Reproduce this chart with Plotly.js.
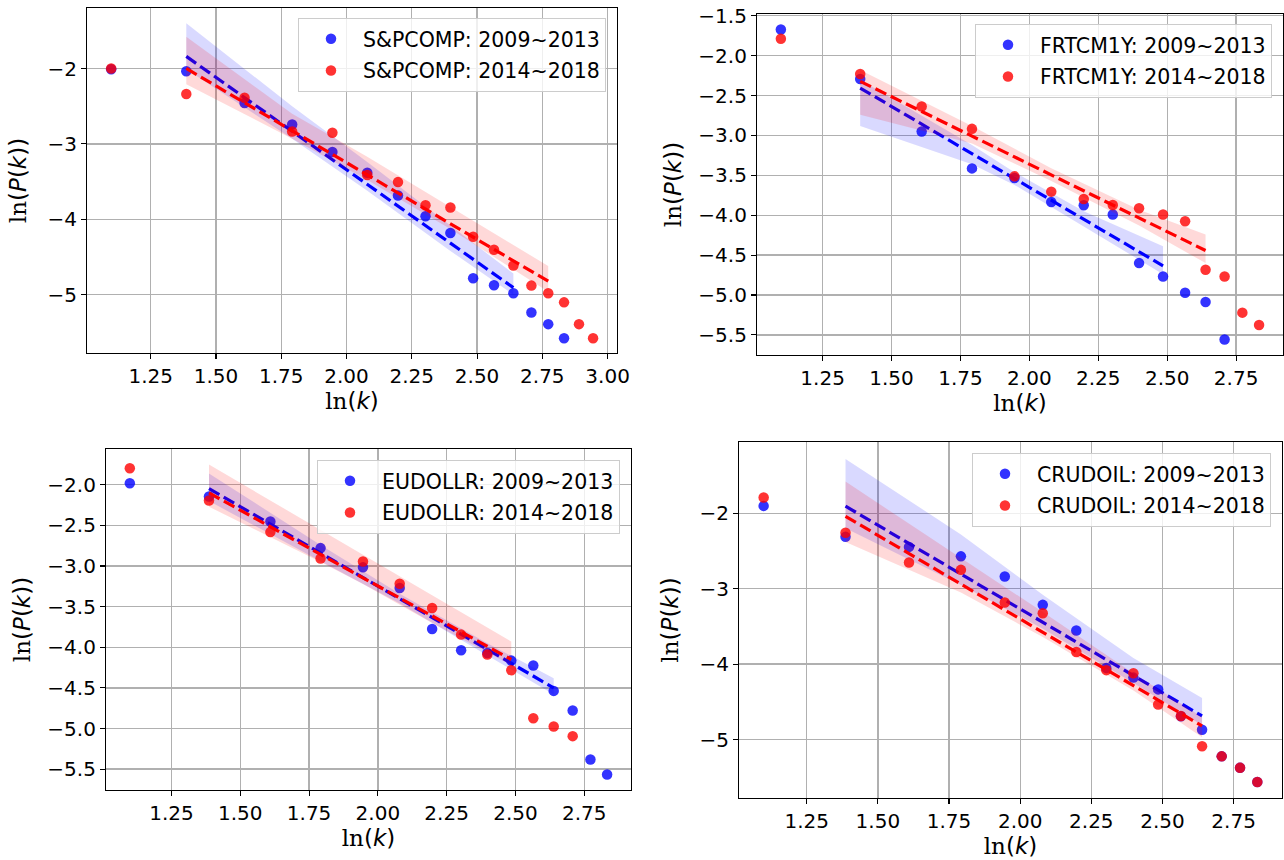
<!DOCTYPE html>
<html>
<head>
<meta charset="utf-8">
<script src="https://cdn.plot.ly/plotly-3.0.1.min.js"></script>
<style>
html,body{margin:0;padding:0;background:#ffffff;}
#chart{width:1284px;height:860px;}
</style>
</head>
<body>
<div id="chart"></div>
<script>
// x values: ln(k) for k = 3 .. 19
const lnK = [1.0986,1.3863,1.6094,1.7918,1.9459,2.0794,2.1972,2.3026,2.3979,2.4849,2.5649,2.6391,2.7081,2.7726,2.8332,2.8904,2.9444];

// ln(P(k)) values
const spBlue = [-2.01,-2.036,-2.458,-2.742,-3.107,-3.382,-3.684,-3.96,-4.182,-4.782,-4.876,-4.982,-5.236,-5.391,-5.578];
const spRed  = [-2.0,-2.338,-2.387,-2.836,-2.853,-3.413,-3.507,-3.813,-3.844,-4.231,-4.404,-4.613,-4.88,-4.982,-5.102,-5.391,-5.578];
const frBlue = [-1.671,-2.292,-2.95,-3.4125,-3.533,-3.833,-3.875,-3.99,-4.6,-4.767,-4.971,-5.088,-5.558];
const frRed  = [-1.7875,-2.229,-2.6375,-2.917,-3.5125,-3.704,-3.796,-3.871,-3.9125,-3.99,-4.075,-4.683,-4.767,-5.221,-5.375];
const euBlue = [-1.98,-2.143,-2.451,-2.779,-3.016,-3.27,-3.775,-4.037,-4.07,-4.164,-4.225,-4.537,-4.779,-5.381,-5.566];
const euRed  = [-1.795,-2.193,-2.582,-2.906,-2.943,-3.217,-3.516,-3.844,-4.09,-4.283,-4.873,-4.975,-5.094];
const crBlue = [-1.902,-2.3125,-2.446,-2.571,-2.839,-3.214,-3.554,-4.05,-4.179,-4.335,-4.69,-4.87,-5.223,-5.375,-5.5625];
const crRed  = [-1.79,-2.259,-2.652,-2.75,-3.183,-3.326,-3.839,-4.08,-4.12,-4.536,-4.6875,-5.089,-5.223,-5.375,-5.5625];

// index range (inclusive) of points used in each regression fit
const spBlueFit = [1, 11], spRedFit = [1, 13];
const frBlueFit = [1, 9],  frRedFit = [1, 11];
const euBlueFit = [1, 11], euRedFit = [1, 9];
const crBlueFit = [1, 11], crRedFit = [1, 11];

// confidence bands
const spBandBlueX  = [1.3863,1.7918,2.0794,2.3979,2.6391];
const spBandBlueHi = [-1.40,-2.50,-3.24,-4.08,-4.72];
const spBandBlueLo = [-2.01,-2.93,-3.62,-4.42,-5.00];
const spBandRedX   = [1.3863,1.7918,2.0794,2.3979,2.7726];
const spBandRedHi  = [-1.58,-2.60,-3.17,-3.84,-4.62];
const spBandRedLo  = [-2.21,-2.93,-3.48,-4.13,-4.96];

const frBandBlueX  = [1.3863,1.7918,1.9459,2.1972,2.4849];
const frBandBlueHi = [-2.30,-3.12,-3.46,-3.95,-4.39];
const frBandBlueLo = [-2.88,-3.36,-3.62,-4.14,-4.74];
const frBandRedX   = [1.3863,1.7918,2.0794,2.3979,2.6391];
const frBandRedHi  = [-2.18,-2.88,-3.41,-3.93,-4.24];
const frBandRedLo  = [-2.74,-3.10,-3.57,-4.13,-4.60];

const euBandBlueX  = [1.3863,1.7918,2.0794,2.3979,2.6391];
const euBandBlueHi = [-1.86,-2.74,-3.34,-3.95,-4.38];
const euBandBlueLo = [-2.20,-2.94,-3.46,-4.10,-4.58];
const euBandRedX   = [1.3863,1.7918,1.9459,2.1972,2.4849];
const euBandRedHi  = [-1.75,-2.56,-2.86,-3.36,-3.93];
const euBandRedLo  = [-2.27,-2.95,-3.22,-3.70,-4.22];

const crBandBlueX  = [1.3863,1.7918,2.0794,2.3979,2.6391];
const crBandBlueHi = [-1.28,-2.28,-3.08,-3.92,-4.45];
const crBandBlueLo = [-2.20,-2.95,-3.53,-4.25,-4.81];
const crBandRedX   = [1.3863,1.7918,2.0794,2.3979,2.6391];
const crBandRedHi  = [-1.58,-2.59,-3.31,-4.12,-4.70];
const crBandRedLo  = [-2.38,-3.05,-3.64,-4.35,-4.97];

// legend labels
const spNames = ['S&amp;PCOMP: 2009~2013','S&amp;PCOMP: 2014~2018'];
const frNames = ['FRTCM1Y: 2009~2013','FRTCM1Y: 2014~2018'];
const euNames = ['EUDOLLR: 2009~2013','EUDOLLR: 2014~2018'];
const crNames = ['CRUDOIL: 2009~2013','CRUDOIL: 2014~2018'];

// tick values / labels
const xTicksA = [1.25,1.5,1.75,2.0,2.25,2.5,2.75,3.0];
const xTextA  = ['1.25','1.50','1.75','2.00','2.25','2.50','2.75','3.00'];
const xTicksB = [1.25,1.5,1.75,2.0,2.25,2.5,2.75];
const xTextB  = ['1.25','1.50','1.75','2.00','2.25','2.50','2.75'];
const yTicksSP = [-2,-3,-4,-5];
const yTextSP  = ['\u22122','\u22123','\u22124','\u22125'];
const yTicksFR = [-1.5,-2.0,-2.5,-3.0,-3.5,-4.0,-4.5,-5.0,-5.5];
const yTextFR  = ['\u22121.5','\u22122.0','\u22122.5','\u22123.0','\u22123.5','\u22124.0','\u22124.5','\u22125.0','\u22125.5'];
const yTicksEU = [-2.0,-2.5,-3.0,-3.5,-4.0,-4.5,-5.0,-5.5];
const yTextEU  = ['\u22122.0','\u22122.5','\u22123.0','\u22123.5','\u22124.0','\u22124.5','\u22125.0','\u22125.5'];
const yTicksCR = [-2,-3,-4,-5];
const yTextCR  = ['\u22122','\u22123','\u22124','\u22125'];

const BLUE = 'rgb(0,0,255)', RED = 'rgb(255,0,0)';
const BLUE_BAND = 'rgba(0,0,255,0.15)', RED_BAND = 'rgba(255,0,0,0.15)';

function fit(x, y, r) {
  const xs = x.slice(r[0], r[1] + 1), ys = y.slice(r[0], r[1] + 1);
  const n = xs.length;
  const mx = xs.reduce((a, b) => a + b, 0) / n;
  const my = ys.reduce((a, b) => a + b, 0) / n;
  let sxy = 0, sxx = 0;
  for (let i = 0; i < n; i++) { sxy += (xs[i] - mx) * (ys[i] - my); sxx += (xs[i] - mx) ** 2; }
  const b = sxy / sxx, a = my - b * mx;
  return { x: [xs[0], xs[n - 1]], y: [a + b * xs[0], a + b * xs[n - 1]] };
}

const panels = [
  {ax:'', leg:'legend',  blue:spBlue, red:spRed, bf:spBlueFit, rf:spRedFit, names:spNames,
   bb:[spBandBlueX,spBandBlueHi,spBandBlueLo], rb:[spBandRedX,spBandRedHi,spBandRedLo]},
  {ax:'2', leg:'legend2', blue:frBlue, red:frRed, bf:frBlueFit, rf:frRedFit, names:frNames,
   bb:[frBandBlueX,frBandBlueHi,frBandBlueLo], rb:[frBandRedX,frBandRedHi,frBandRedLo]},
  {ax:'3', leg:'legend3', blue:euBlue, red:euRed, bf:euBlueFit, rf:euRedFit, names:euNames,
   bb:[euBandBlueX,euBandBlueHi,euBandBlueLo], rb:[euBandRedX,euBandRedHi,euBandRedLo]},
  {ax:'4', leg:'legend4', blue:crBlue, red:crRed, bf:crBlueFit, rf:crRedFit, names:crNames,
   bb:[crBandBlueX,crBandBlueHi,crBandBlueLo], rb:[crBandRedX,crBandRedHi,crBandRedLo]}
];

const traces = [];
panels.forEach(p => {
  const xa = 'x' + p.ax, ya = 'y' + p.ax;
  const series = [
    {y:p.blue, fr:p.bf, band:p.bb, c:BLUE, bc:BLUE_BAND, name:p.names[0], g:'a'},
    {y:p.red,  fr:p.rf, band:p.rb, c:RED,  bc:RED_BAND,  name:p.names[1], g:'b'}
  ];
  series.forEach(s => {
    const xs = lnK.slice(0, s.y.length);
    traces.push({type:'scatter', mode:'markers', x:xs, y:s.y, xaxis:xa, yaxis:ya,
      name:s.name, legend:p.leg, legendgroup:p.ax + s.g, showlegend:true,
      marker:{color:s.c, size:10.5, opacity:0.8, line:{width:0}}, hoverinfo:'skip'});
    const bx = s.band[0];
    traces.push({type:'scatter', mode:'lines', xaxis:xa, yaxis:ya,
      x:bx.concat(bx.slice().reverse()), y:s.band[1].concat(s.band[2].slice().reverse()),
      fill:'toself', fillcolor:s.bc, line:{width:0, color:s.bc}, showlegend:false, hoverinfo:'skip'});
    const f = fit(lnK, s.y, s.fr);
    traces.push({type:'scatter', mode:'lines', x:f.x, y:f.y, xaxis:xa, yaxis:ya,
      line:{color:s.c, width:3.2, dash:'12px,5px'}, showlegend:false, hoverinfo:'skip'});
  });
});

const W = 1284, H = 860;
const FONT = 'DejaVu Sans, sans-serif';
const xTitle = "<span style='font-family:DejaVu Serif'>ln</span>(<i>k</i>)";
const yTitle = "<span style='font-family:DejaVu Serif'>ln</span>(<i>P</i>(<i>k</i>))";

function xAxis(l, r, range, tv, tt, anchor) {
  return {domain:[l / W, r / W], range:range, anchor:anchor, tickvals:tv, ticktext:tt,
    showline:true, mirror:true, linecolor:'#000', linewidth:1.1, ticks:'outside', ticklen:5,
    tickwidth:1.1, tickcolor:'#000', showgrid:true, gridcolor:'#b0b0b0', gridwidth:1.3,
    zeroline:false, tickfont:{family:FONT, size:20, color:'#000'},
    title:{text:xTitle, font:{family:FONT, size:23, color:'#000'}, standoff:4}};
}
function yAxis(t, b, range, tv, tt, anchor, standoff) {
  return {domain:[1 - b / H, 1 - t / H], range:range, anchor:anchor, tickvals:tv, ticktext:tt,
    showline:true, mirror:true, linecolor:'#000', linewidth:1.1, ticks:'outside', ticklen:5,
    tickwidth:1.1, tickcolor:'#000', showgrid:true, gridcolor:'#b0b0b0', gridwidth:1.3,
    zeroline:false, tickfont:{family:FONT, size:20, color:'#000'},
    title:{text:yTitle, font:{family:FONT, size:23, color:'#000'}, standoff:standoff}};
}
function legend(right, top) {
  return {x:right / W, y:1 - top / H, xanchor:'right', yanchor:'top',
    bgcolor:'rgba(255,255,255,0.8)', bordercolor:'#cccccc', borderwidth:1,
    font:{family:FONT, size:20.5, color:'#000'}, traceorder:'grouped', tracegroupgap:2,
    itemwidth:54};
}

const layout = {
  width:W, height:H, margin:{l:0, r:0, t:0, b:0}, paper_bgcolor:'#fff', plot_bgcolor:'#fff',
  showlegend:true, hovermode:false,
  xaxis:  xAxis(87, 617, [1.006, 3.036], xTicksA, xTextA, 'y'),
  yaxis:  yAxis(8, 353, [-5.774, -1.197], yTicksSP, yTextSP, 'x', 14),
  xaxis2: xAxis(757, 1283, [1.012, 2.920], xTicksB, xTextB, 'y2'),
  yaxis2: yAxis(14, 355, [-5.752, -1.477], yTicksFR, yTextFR, 'x2', 10),
  xaxis3: xAxis(106, 631, [1.012, 2.920], xTicksB, xTextB, 'y3'),
  yaxis3: yAxis(449, 790, [-5.757, -1.559], yTicksEU, yTextEU, 'x3', 10),
  xaxis4: xAxis(739, 1282, [1.012, 2.920], xTicksB, xTextB, 'y4'),
  yaxis4: yAxis(442, 798, [-5.775, -1.055], yTicksCR, yTextCR, 'x4', 14),
  legend:  legend(606, 18),
  legend2: legend(1272, 24),
  legend3: legend(620, 460),
  legend4: legend(1271, 453)
};

Plotly.newPlot('chart', traces, layout, {staticPlot:true, displayModeBar:false});
</script>
</body>
</html>
